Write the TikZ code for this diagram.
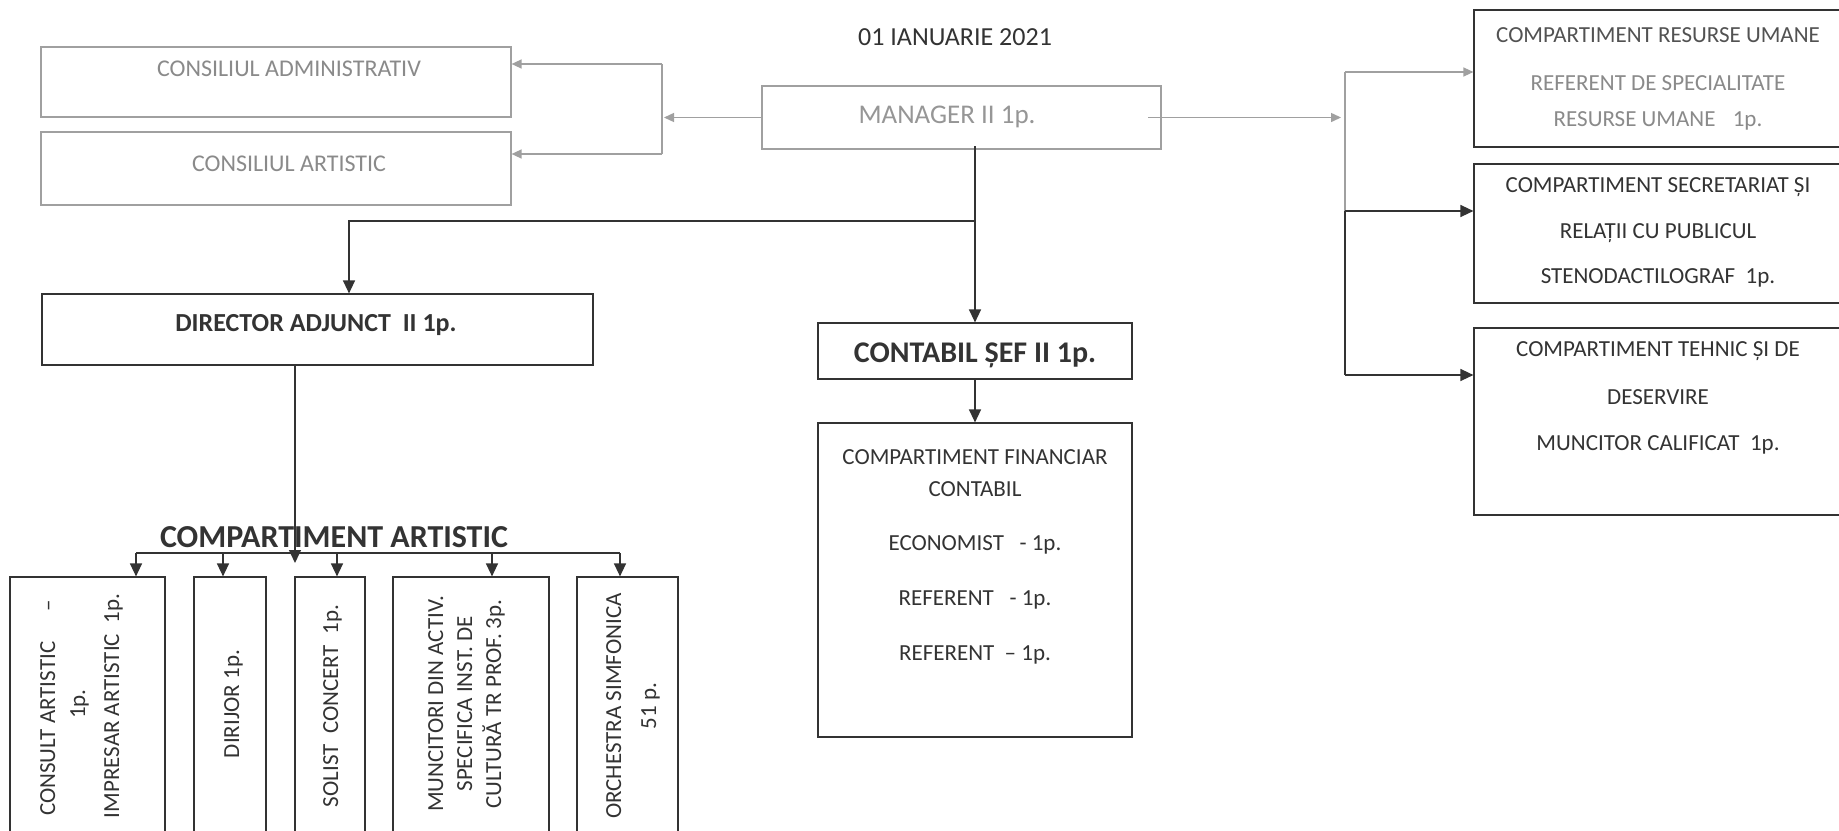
\documentclass[tikz,border=0pt]{standalone}
\usepackage{fontspec}
\setmainfont{Carlito}
\usetikzlibrary{arrows.meta,calc}
\definecolor{dk}{HTML}{333333}
\definecolor{gt}{HTML}{8A8A8A}
\definecolor{gl}{HTML}{A0A0A0}
\tikzset{
 boxd/.style={draw=dk, line width=0.6pt, inner sep=0pt},
 boxg/.style={draw=gl, line width=0.6pt, inner sep=0pt},
 lined/.style={draw=dk, line width=0.7pt},
 lineg/.style={draw=gl, line width=0.7pt},
 arrd/.style={lined, -{Triangle[length=6.5pt,width=6pt]}},
 arrg/.style={lineg, -{Triangle[length=5pt,width=4.5pt]}},
 tbase/.style={anchor=base, inner sep=0pt, text=dk},
 t115/.style={tbase, font=\fontsize{11.5}{13.8}\selectfont},
 t115g/.style={t115, text=gt},
 t12/.style={tbase, font=\fontsize{12}{14}\selectfont},
 t12g/.style={t12, text=gt},
 t13/.style={tbase, font=\fontsize{13}{15}\selectfont},
 t13g/.style={tbase, text=gt!90, font=\fontsize{13.5}{16}\selectfont},
 t13b/.style={tbase, font=\fontsize{13}{15}\selectfont\bfseries},
 t15b/.style={tbase, font=\fontsize{15}{18}\selectfont\bfseries},
 t16b/.style={tbase, font=\fontsize{16}{19}\selectfont\bfseries},
 tr/.style={t115, rotate=90},
}
\newcommand\mybox[6]{\node[#6, minimum width={(#4-#2)*0.5pt}, minimum height={(#5-#3)*0.5pt}] (#1) at ({(#2+#4)/2},{(#3+#5)/2}) {};}
\begin{document}
\begin{tikzpicture}[x=0.5pt,y=-0.5pt]
\useasboundingbox (0,0) rectangle (1839,830);
\fill[white] (0,0) rectangle (1839,830);
\clip (0,0) rectangle (1839,830);

\node[t13] (title) at (955,45) {01 IANUARIE 2021};

% councils
\mybox{cadm}{41}{47}{511}{117}{boxg}
\mybox{cart}{41}{132}{511}{205}{boxg}
\node[t12g] (tadm) at (289,76) {CONSILIUL ADMINISTRATIV};
\node[t12g] (tart) at (289,171) {CONSILIUL ARTISTIC};

% manager
\mybox{mgr}{762}{86}{1161}{149}{boxg}
\node[t13g] (tmgr) at (947,123) {MANAGER II 1p.};

\coordinate (bt) at (662,64);
\coordinate (bb) at (662,154);
\coordinate (bm) at (664,117.5);
\draw[arrg] (mgr.west) -- (bm);
\draw[lineg] (bt) -- (bb);
\draw[arrg] (bt) -- (bt -| cadm.east);
\draw[arrg] (bb) -- (bb -| cart.east);

% right boxes
\mybox{hr}{1474}{10}{1860}{147}{boxd}
\mybox{sec}{1474}{164}{1860}{303}{boxd}
\mybox{teh}{1474}{328}{1860}{515}{boxd}
\node[t115, text=dk!85] (hr1) at (1658,42) {COMPARTIMENT RESURSE UMANE};
\node[t115g] (hr2) at (1658,90) {REFERENT DE SPECIALITATE};
\node[t115g] (hr3) at (1658,126) {RESURSE UMANE\hspace{0.75em}1p.};
\node[t115] (sc1) at (1658,192) {COMPARTIMENT SECRETARIAT ȘI};
\node[t115] (sc2) at (1658,238) {RELAȚII CU PUBLICUL};
\node[t115] (sc3) at (1658,283) {STENODACTILOGRAF\ \ 1p.};
\node[t115] (th1) at (1658,356) {COMPARTIMENT TEHNIC ȘI DE};
\node[t115] (th2) at (1658,404) {DESERVIRE};
\node[t115] (th3) at (1658,450) {MUNCITOR CALIFICAT\ \ 1p.};

\coordinate (mr0) at (1148,117.5);
\coordinate (mr1) at (1341,117.5);
\draw[arrg] (mr0) -- (mr1);
\coordinate (rv0) at (1345,72);
\coordinate (rv1) at (1345,211);
\coordinate (rv2) at (1345,375);
\draw[lineg] (rv0) -- (rv1);
\draw[lined] (rv1) -- (rv2);
\draw[arrg] (rv0) -- (rv0 -| hr.west);
\draw[arrd] (rv1) -- (rv1 -| sec.west);
\draw[arrd] (rv2) -- (rv2 -| teh.west);

% director, contabil
\mybox{dir}{42}{294}{593}{365}{boxd}
\mybox{cont}{818}{323}{1132}{379}{boxd}
\mybox{fin}{818}{423}{1132}{737}{boxd}
\node[t13b] (tdir) at (316,331) {DIRECTOR ADJUNCT\ \ II 1p.};
\node[t15b] (tcont) at (975,362) {CONTABIL ȘEF II 1p.};
\node[t115] (f1) at (975,464) {COMPARTIMENT FINANCIAR};
\node[t115] (f2) at (975,496) {CONTABIL};
\node[t115] (f3) at (975,550) {ECONOMIST\ \ \ - 1p.};
\node[t115] (f4) at (975,605) {REFERENT\ \ \ - 1p.};
\node[t115] (f5) at (975,660) {REFERENT\ \ – 1p.};

\coordinate (md0) at (975,146);
\coordinate (mdj) at (975,221);
\coordinate (djx) at (349,221);
\draw[arrd] (md0) -- (md0 |- cont.north);
\draw[arrd] (mdj) -- (djx) -- (djx |- dir.north);
\draw[arrd] (cont.south) -- (fin.north);

% artistic compartment
\node[t16b] (tca) at (334,547) {COMPARTIMENT ARTISTIC};
\mybox{b1}{10}{577}{165}{850}{boxd}
\mybox{b2}{194}{577}{266}{850}{boxd}
\mybox{b3}{295}{577}{365}{850}{boxd}
\mybox{b4}{393}{577}{549}{850}{boxd}
\mybox{b5}{577}{577}{678}{850}{boxd}
\coordinate (dd1) at (295,563);
\draw[arrd] (dir.south -| dd1) -- (dd1);
\coordinate (bu1) at (136,553);
\coordinate (bu2) at (223,553);
\coordinate (bu3) at (337,553);
\coordinate (bu4) at (492,553);
\coordinate (bu5) at (620,553);
\draw[lined] (bu1) -- (bu5);
\draw[arrd] (bu1) -- (bu1 |- b1.north);
\draw[arrd] (bu2) -- (bu2 |- b2.north);
\draw[arrd] (bu3) -- (bu3 |- b3.north);
\draw[arrd] (bu4) -- (bu4 |- b4.north);
\draw[arrd] (bu5) -- (bu5 |- b5.north);

\node[tr] (r1a) at (55,708) {CONSULT ARTISTIC\hspace{1.3em}–};
\node[tr] (r1b) at (85,704) {1p.};
\node[tr] (r1c) at (119,706) {IMPRESAR ARTISTIC\ \ 1p.};
\node[tr] (r2) at (239,704) {DIRIJOR 1p.};
\node[tr] (r3) at (338,706) {SOLIST\ \ CONCERT\ \ 1p.};
\node[tr] (r4a) at (443,704) {MUNCITORI DIN ACTIV.};
\node[tr] (r4b) at (472,704) {SPECIFICA INST. DE};
\node[tr] (r4c) at (501,704) {CULTURĂ TR PROF. 3p.};
\node[tr] (r5a) at (621,706) {ORCHESTRA SIMFONICA};
\node[tr] (r5b) at (656,706) {51 p.};
\end{tikzpicture}
\end{document}
